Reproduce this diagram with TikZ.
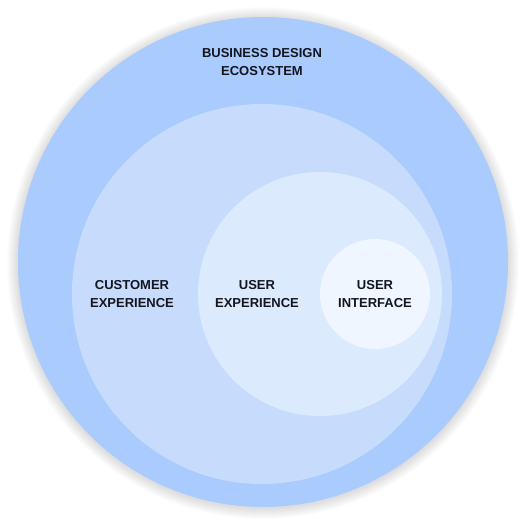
\documentclass[tikz,border=0pt]{standalone}
\usepackage{fontspec}
\setmainfont{Liberation Sans}
\definecolor{cOuter}{RGB}{170,203,253}
\definecolor{cCust}{RGB}{199,220,253}
\definecolor{cUX}{RGB}{220,234,254}
\definecolor{cUI}{RGB}{239,246,255}
\definecolor{cText}{RGB}{20,22,30}
\tikzset{
  ring/.style={circle, draw=none, inner sep=0pt, minimum size=#1},
  lbl/.style={text=cText, align=center, font=\fontsize{13}{18.5}\selectfont\bfseries}
}
\begin{document}
\begin{tikzpicture}[x=1pt,y=-1pt]
\useasboundingbox (0,0) rectangle (525,525);
\fill[white] (0,0) rectangle (525,525);
% soft shadow
\foreach \i in {11,10,...,1}{
  \fill[black, opacity=0.011] (263,263) circle[radius=245+\i];
}
\node[ring=490pt, fill=cOuter] (eco) at (263,262) {};
\node[ring=380pt, fill=cCust] (cx) at (262,294) {};
\node[ring=244pt, fill=cUX] (ux) at (320,294) {};
\node[ring=110pt, fill=cUI] (ui) at (375,294) {};
\node[lbl] (teco) at (262,62) {BUSINESS DESIGN\\ECOSYSTEM};
\node[lbl] (tcx) at (132,294) {CUSTOMER\\EXPERIENCE};
\node[lbl] (tux) at (257,294) {USER\\EXPERIENCE};
\node[lbl] (tui) at (375,294) {USER\\INTERFACE};
\end{tikzpicture}
\end{document}
